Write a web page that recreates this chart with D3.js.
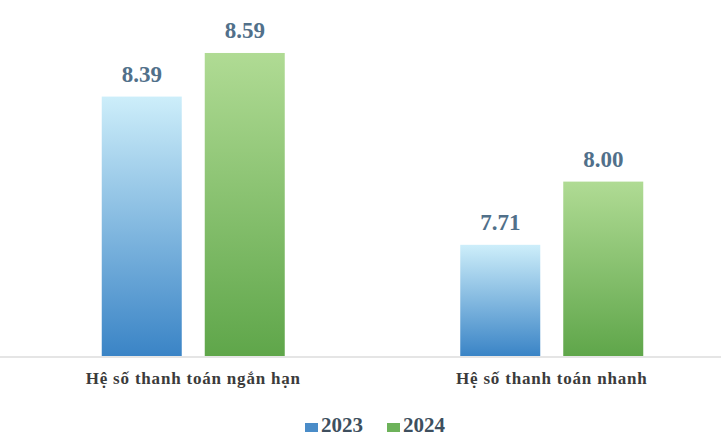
<!DOCTYPE html>
<html>
<head>
<meta charset="utf-8">
<script src="https://cdn.jsdelivr.net/npm/d3@7"></script>
<style>
  body { margin: 0; background: #fff; }
  svg { display: block; }
</style>
</head>
<body>
<svg id="chart"></svg>
<script>
// data
var categories = ["Hệ số thanh toán ngắn hạn", "Hệ số thanh toán nhanh"];
var years = ["2023", "2024"];
var values2023 = [8.39, 7.71];
var values2024 = [8.59, 8.00];

var W = 721, H = 437;
var baseY = 356;

var svg = d3.select("#chart")
  .attr("width", W)
  .attr("height", H);

// gradients for the bars
var defs = svg.append("defs");
var grads = [
  { id: "g2023", top: "#cdeefa", bottom: "#3a84c6" },
  { id: "g2024", top: "#b0db94", bottom: "#5fa64a" }
];
grads.forEach(function (g) {
  var lg = defs.append("linearGradient")
    .attr("id", g.id)
    .attr("x1", 0).attr("y1", 0).attr("x2", 0).attr("y2", 1);
  lg.append("stop").attr("offset", "0%").attr("stop-color", g.top);
  lg.append("stop").attr("offset", "100%").attr("stop-color", g.bottom);
});

// scales
var x0 = d3.scaleBand()
  .domain(categories)
  .range([14, 731]);

var x1 = d3.scaleBand()
  .domain(years)
  .range([0, 183])
  .paddingInner(23 / 103);

var y = d3.scaleLinear()
  .domain([7.2, 8.7])
  .range([baseY, 29]);

var rows = [];
categories.forEach(function (c, i) {
  rows.push({ cat: c, year: "2023", value: values2023[i] });
  rows.push({ cat: c, year: "2024", value: values2024[i] });
});

function barX(d) {
  return x0(d.cat) + x0.bandwidth() / 2 - 91.5 + x1(d.year);
}

svg.selectAll(".bar")
  .data(rows)
  .enter()
  .append("rect")
  .attr("class", "bar")
  .attr("x", barX)
  .attr("width", x1.bandwidth())
  .attr("y", function (d) { return y(d.value); })
  .attr("height", function (d) { return baseY - y(d.value); })
  .attr("fill", function (d) { return "url(#g" + d.year + ")"; });

// value labels
svg.selectAll(".val")
  .data(rows)
  .enter()
  .append("text")
  .attr("class", "val")
  .attr("x", function (d) { return barX(d) + x1.bandwidth() / 2; })
  .attr("y", function (d) { return y(d.value) - 15; })
  .attr("text-anchor", "middle")
  .style("font-family", "'Liberation Serif', serif")
  .style("font-weight", "bold")
  .style("font-size", "23px")
  .style("fill", "#51708a")
  .text(function (d) { return d.value.toFixed(2); });

// baseline axis
var axis = svg.append("g")
  .attr("transform", "translate(0," + (baseY + 1) + ")")
  .call(d3.axisBottom(x0).tickSize(0).tickPadding(15));
axis.select(".domain")
  .attr("d", "M0,0H" + W)
  .attr("stroke", "#dcdcdc")
  .attr("stroke-width", 1.5);
axis.selectAll("text")
  .style("font-family", "'Liberation Serif', serif")
  .style("font-weight", "bold")
  .style("font-size", "17px")
  .style("letter-spacing", "0.8px")
  .style("fill", "#3b3b3b");

// legend
var legendColors = { "2023": "#4a8cc8", "2024": "#6db25a" };
var legendX = [305, 387];
var legend = svg.selectAll(".leg")
  .data(years)
  .enter()
  .append("g")
  .attr("class", "leg")
  .attr("transform", function (d, i) { return "translate(" + legendX[i] + ",432)"; });
legend.append("rect")
  .attr("x", 0).attr("y", -9)
  .attr("width", 13).attr("height", 9)
  .attr("fill", function (d) { return legendColors[d]; });
legend.append("text")
  .attr("x", 16)
  .attr("y", 0)
  .style("font-family", "'Liberation Serif', serif")
  .style("font-weight", "bold")
  .style("font-size", "21px")
  .style("fill", "#3e4f5e")
  .text(function (d) { return d; });
</script>
</body>
</html>
